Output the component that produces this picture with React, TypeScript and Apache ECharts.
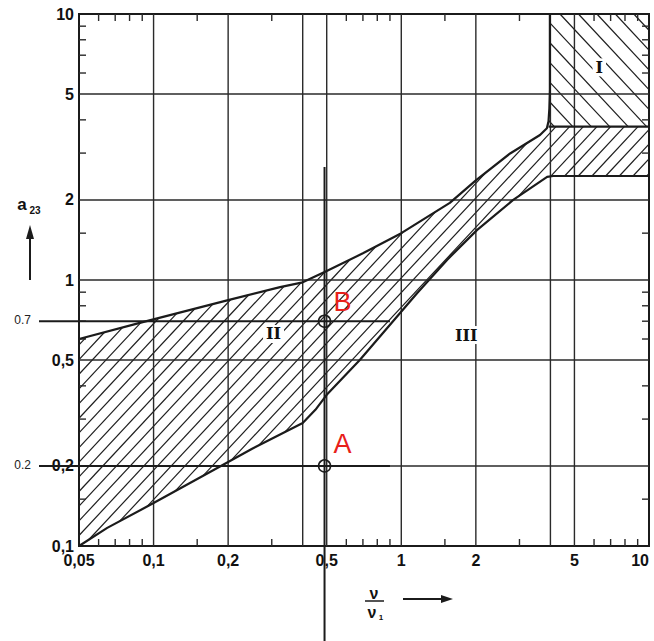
import React, { useEffect, useRef } from 'react';
import * as echarts from 'echarts';

// ---- data ----
const xTickLabels = [0.05, 0.1, 0.2, 0.5, 1, 2, 5, 10];
const yTickLabels = [0.1, 0.2, 0.5, 1, 2, 5, 10];
const xGridLines = [0.1, 0.2, 0.4, 0.5, 1, 2, 4, 5];
const yGridLines = [0.2, 0.5, 1, 2, 5];
const xMinorTicks = [0.06, 0.07, 0.08, 0.09, 0.15, 0.3, 0.6, 0.7, 0.8, 0.9, 1.5, 3, 6, 7, 8, 9];
const yMinorTicks = [0.15, 0.3, 0.4, 0.6, 0.7, 0.8, 0.9, 1.5, 3, 4, 6, 7, 8, 9];

// upper boundary of band II (continues into left edge of region I)
const upperX = [0.05, 0.088, 0.2, 0.324, 0.4, 0.5, 0.7, 1.0, 1.57, 2.0, 2.75, 3.63, 3.87, 3.93, 3.96, 3.98, 3.98];
const upperY = [0.6, 0.69, 0.84, 0.94, 0.98, 1.08, 1.26, 1.5, 1.95, 2.37, 2.99, 3.51, 3.72, 3.95, 4.4, 5.2, 10];
// lower boundary of band II
const lowerX = [0.05, 0.065, 0.1, 0.18, 0.25, 0.4, 0.45, 0.5, 0.68, 1.16, 1.53, 2.02, 2.83, 3.88, 4.1, 10];
const lowerY = [0.1, 0.117, 0.145, 0.196, 0.232, 0.29, 0.325, 0.37, 0.5, 0.894, 1.19, 1.54, 2.0, 2.44, 2.46, 2.46];
// upper limit of band at the right (border of region I)
const shelfX = [3.93, 10];
const shelfY = [3.77, 3.77];
// region I
const region1X = [3.98, 3.98, 3.96, 3.93, 3.95, 10, 10];
const region1Y = [10, 5.2, 4.4, 3.95, 3.77, 3.77, 10];

// reference lines and points
const markerX = 0.49;
const markerY = [0.7, 0.2];
const markerLabel = ['B', 'A'];
const refLabel = ['0.7', '0.2'];
const refLineEndX = 0.9;
const verticalTopY = 2.66;

const regionName = ['I', 'II', 'III'];
const regionX = [6.3, 0.305, 1.83];
const regionY = [6.3, 0.627, 0.621];

// ---- helpers ----
const INK = '#1b1b1b';

function hatch(pts: number[][], dir: number[], spacing: number, offset: number, style: any) {
  const nx = -dir[1], ny = dir[0];
  const proj = pts.map(p => p[0] * nx + p[1] * ny);
  const cmin = Math.min(...proj), cmax = Math.max(...proj);
  const out: any[] = [];
  let c = Math.ceil((cmin - offset) / spacing) * spacing + offset;
  for (; c < cmax; c += spacing) {
    const hits: number[][] = [];
    for (let i = 0; i < pts.length; i++) {
      const a = pts[i], b = pts[(i + 1) % pts.length];
      const sa = proj[i] - c, sb = proj[(i + 1) % pts.length] - c;
      if ((sa < 0) !== (sb < 0)) {
        const t = sa / (sa - sb);
        hits.push([a[0] + t * (b[0] - a[0]), a[1] + t * (b[1] - a[1])]);
      }
    }
    hits.sort((p, q) => (p[0] * dir[0] + p[1] * dir[1]) - (q[0] * dir[0] + q[1] * dir[1]));
    for (let k = 0; k + 1 < hits.length; k += 2) {
      out.push({ type: 'line', shape: { x1: hits[k][0], y1: hits[k][1], x2: hits[k + 1][0], y2: hits[k + 1][1] }, style });
    }
  }
  return out;
}

function nearestLabel(v: number, arr: number[]) {
  let best = arr[0];
  for (const a of arr) if (Math.abs(Math.log(a) - Math.log(v)) < Math.abs(Math.log(best) - Math.log(v))) best = a;
  return String(best).replace('.', ',');
}

const labelFont = { fontFamily: '"Liberation Sans", Arial, sans-serif', fontWeight: 'bold' as const, fontSize: 16, color: '#111' };

function txt(x: number, y: number, text: string, font: string, fill: string, align = 'center', valign = 'middle', extra: any = {}) {
  return {
    type: 'text', x, y,
    style: { text, font, fill, align, verticalAlign: valign, textAlign: align, textVerticalAlign: valign, ...extra },
  };
}

export default function App() {
  const ref = useRef<HTMLDivElement>(null);
  useEffect(() => {
    if (!ref.current) return;
    const chart = echarts.init(ref.current, null, { renderer: 'svg' });
    const H = 641;

    const bandPoly: number[][] = [];
    const nUpper = upperX.findIndex((x, i) => upperY[i] >= 3.72) + 1;
    upperX.slice(0, nUpper).forEach((x, i) => bandPoly.push([x, upperY[i]]));
    bandPoly.push([shelfX[0], shelfY[0]], [shelfX[1], shelfY[1]]);
    for (let i = lowerX.length - 1; i >= 0; i--) bandPoly.push([lowerX[i], lowerY[i]]);
    const r1Poly = region1X.map((x, i) => [x, region1Y[i]]);

    const gridStyle = { stroke: '#2a2a2a', lineWidth: 1.4 };
    const hatchStyle = { stroke: '#1e1e1e', lineWidth: 1.2 };
    const th = (47 * Math.PI) / 180;

    const option: any = {
      animation: false,
      backgroundColor: '#fff',
      grid: {
        left: 79, right: 5, top: 14, bottom: 95, show: true, borderColor: INK, borderWidth: 2,
        backgroundColor: 'transparent', containLabel: false, outerBoundsMode: 'none',
      },
      xAxis: {
        type: 'log', logBase: 10, min: 0.05, max: 10,
        axisLine: { show: false }, axisTick: { show: false }, splitLine: { show: false },
        axisLabel: {
          ...labelFont, margin: 6, customValues: xTickLabels, alignMaxLabel: 'right',
          formatter: (v: number) => nearestLabel(v, xTickLabels),
        },
      },
      yAxis: {
        type: 'log', logBase: 10, min: 0.1, max: 10,
        axisLine: { show: false }, axisTick: { show: false }, splitLine: { show: false },
        axisLabel: { ...labelFont, margin: 5, customValues: yTickLabels, formatter: (v: number) => nearestLabel(v, yTickLabels) },
      },
      series: [
        {
          type: 'custom', name: 'hatch', silent: true, z: 1, data: [[1, 1]],
          renderItem: (params: any, api: any) => {
            const band = bandPoly.map(p => api.coord(p));
            const r1 = r1Poly.map(p => api.coord(p));
            return {
              type: 'group',
              children: [
                ...hatch(band, [Math.cos(th), -Math.sin(th)], 10, 3, hatchStyle),
                ...hatch(r1, [Math.cos(th), Math.sin(th)], 13.5, 5, hatchStyle),
              ],
            };
          },
        },
        {
          type: 'custom', name: 'grid', silent: true, z: 2, data: [[1, 1]],
          renderItem: (params: any, api: any) => {
            const x0 = api.coord([0.05, 0.1])[0], x1 = api.coord([10, 0.1])[0];
            const y0 = api.coord([0.05, 0.1])[1], y1 = api.coord([0.05, 10])[1];
            const ch: any[] = [];
            xGridLines.forEach(v => { const x = api.coord([v, 1])[0]; ch.push({ type: 'line', shape: { x1: x, y1: y0, x2: x, y2: y1 }, style: gridStyle }); });
            yGridLines.forEach(v => { const y = api.coord([1, v])[1]; ch.push({ type: 'line', shape: { x1: x0, y1: y, x2: x1, y2: y }, style: gridStyle }); });
            const tl = 7;
            xMinorTicks.forEach(v => {
              const x = api.coord([v, 1])[0];
              ch.push({ type: 'line', shape: { x1: x, y1: y0, x2: x, y2: y0 - tl }, style: gridStyle });
              ch.push({ type: 'line', shape: { x1: x, y1: y1, x2: x, y2: y1 + tl }, style: gridStyle });
            });
            yMinorTicks.forEach(v => {
              const y = api.coord([1, v])[1];
              ch.push({ type: 'line', shape: { x1: x0, y1: y, x2: x0 + tl, y2: y }, style: gridStyle });
              ch.push({ type: 'line', shape: { x1: x1, y1: y, x2: x1 - tl, y2: y }, style: gridStyle });
            });
            return { type: 'group', children: ch };
          },
        },
        {
          type: 'line', name: 'upper', z: 5, symbol: 'none', silent: true,
          data: upperX.map((x, i) => [x, upperY[i]]),
          lineStyle: { color: INK, width: 2.2 },
        },
        {
          type: 'line', name: 'lower', z: 5, symbol: 'none', silent: true,
          data: lowerX.map((x, i) => [x, lowerY[i]]),
          lineStyle: { color: INK, width: 2.2 },
        },
        {
          type: 'line', name: 'shelf', z: 5, symbol: 'none', silent: true,
          data: shelfX.map((x, i) => [x, shelfY[i]]),
          lineStyle: { color: INK, width: 2.2 },
        },
        {
          type: 'custom', name: 'annot', silent: true, z: 8, data: [[1, 1]],
          renderItem: (params: any, api: any) => {
            const ch: any[] = [];
            const xl = api.coord([0.05, 1])[0];
            const lineStyle = { stroke: INK, lineWidth: 2 };
            markerY.forEach((v, i) => {
              const p = api.coord([markerX, v]);
              const e = api.coord([refLineEndX, v]);
              ch.push({ type: 'line', shape: { x1: xl - 40, y1: p[1], x2: e[0], y2: p[1] }, style: lineStyle });
              ch.push(txt(xl - 48, p[1] - 1, refLabel[i], '12px "Liberation Sans", Arial, sans-serif', '#222', 'right', 'middle'));
            });
            const top = api.coord([markerX, verticalTopY]);
            ch.push({ type: 'line', shape: { x1: top[0], y1: top[1], x2: top[0], y2: H }, style: lineStyle });
            markerY.forEach((v, i) => {
              const p = api.coord([markerX, v]);
              ch.push({ type: 'circle', shape: { cx: p[0], cy: p[1], r: 6 }, style: { fill: 'none', stroke: INK, lineWidth: 1.5 } });
              ch.push(txt(p[0] + 18, p[1] - (i === 0 ? 19 : 22), markerLabel[i], '500 27px "Liberation Sans", Arial, sans-serif', '#e8201a', 'center', 'middle'));
            });
            regionName.forEach((n, i) => {
              const p = api.coord([regionX[i], regionY[i]]);
              ch.push(txt(p[0], p[1], n, 'bold 16px "DejaVu Serif", "Liberation Serif", serif', '#111', 'center', 'middle', { backgroundColor: '#fff', padding: [1, 3] }));
            });
            return { type: 'group', children: ch };
          },
        },
      ],
      graphic: [
        txt(22, 204, 'a', 'bold 17px "Liberation Sans", Arial, sans-serif', '#111', 'center', 'middle'),
        txt(35, 210, '23', 'bold 10px "Liberation Sans", Arial, sans-serif', '#111', 'center', 'middle'),
        { type: 'line', shape: { x1: 30, y1: 280, x2: 30, y2: 236 }, style: { stroke: INK, lineWidth: 2 } },
        { type: 'polygon', shape: { points: [[26, 239], [30, 225], [34, 239]] }, style: { fill: INK } },
        txt(374, 593, 'ν', 'bold 16px "Liberation Sans", Arial, sans-serif', '#111', 'center', 'middle'),
        { type: 'line', shape: { x1: 365, y1: 601, x2: 384, y2: 601 }, style: { stroke: INK, lineWidth: 1.5 } },
        txt(372, 612, 'ν', 'bold 16px "Liberation Sans", Arial, sans-serif', '#111', 'center', 'middle'),
        txt(381, 617, '1', 'bold 8px "Liberation Sans", Arial, sans-serif', '#111', 'center', 'middle'),
        { type: 'line', shape: { x1: 403, y1: 599, x2: 444, y2: 599 }, style: { stroke: INK, lineWidth: 2 } },
        { type: 'polygon', shape: { points: [[441, 595], [453, 599], [441, 603]] }, style: { fill: INK } },
      ],
    };
    chart.setOption(option);
    return () => chart.dispose();
  }, []);
  return <div ref={ref} style={{ position: 'absolute', left: 0, top: 0, width: 654, height: 641 }} />;
}
